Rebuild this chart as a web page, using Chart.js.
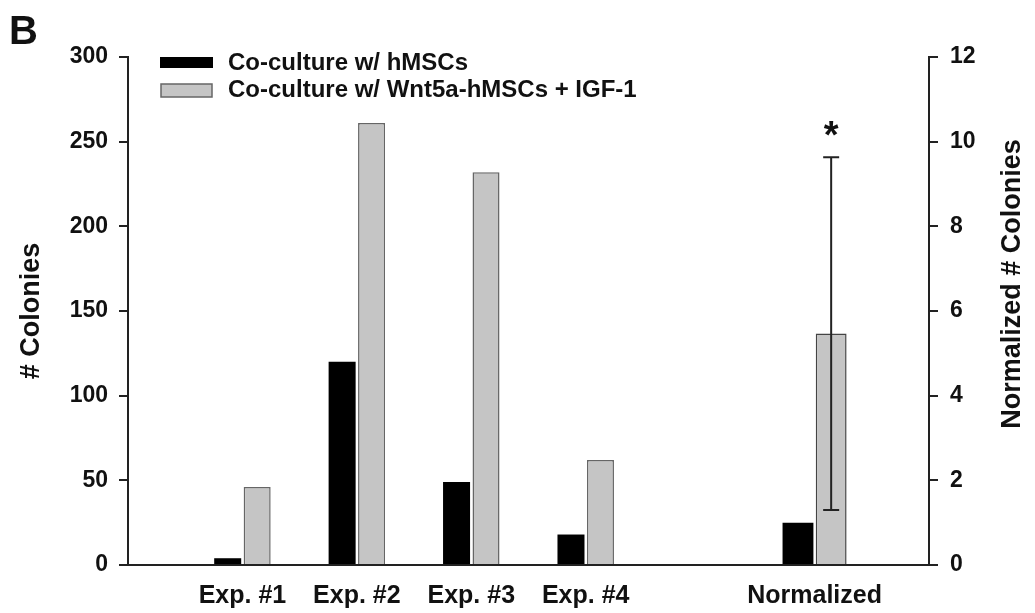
<!DOCTYPE html>
<html><head><meta charset="utf-8">
<script src="https://cdn.jsdelivr.net/npm/chart.js@4.4.1/dist/chart.umd.min.js"></script>
<style>html,body{margin:0;padding:0;background:#fff}#wrap{width:1035px;height:613px;position:relative}</style>
</head><body><div id="wrap"><canvas id="c" width="1035" height="613"></canvas></div>
<script>
// ---- data ----
const categories = ['', 'Exp. #1', 'Exp. #2', 'Exp. #3', 'Exp. #4', '', 'Normalized', ''];
const seriesNames = ['Co-culture w/ hMSCs', 'Co-culture w/ Wnt5a-hMSCs + IGF-1'];
const hmscColonies = [null, 4, 120, 49, 18, null, null, null];
const wntColonies = [null, 46, 261, 232, 62, null, null, null];
const hmscNormalized = [null, null, null, null, null, null, 1.0, null];
const wntNormalized = [null, null, null, null, null, null, 5.47, null];
const wntNormErrLow = [null, null, null, null, null, null, 1.3, null];
const wntNormErrHigh = [null, null, null, null, null, null, 9.63, null];
const significance = ['', '', '', '', '', '', '*', ''];
const leftTicks = [0, 50, 100, 150, 200, 250, 300];
const rightTicks = [0, 2, 4, 6, 8, 10, 12];
const panelLabel = 'B';
const leftTitle = '# Colonies';
const rightTitle = 'Normalized # Colonies';

const FONT = '"Liberation Sans", Arial, Helvetica, sans-serif';
const INK = '#111';
const AXIS = '#222';
const BLACK = '#000';
const GRAY = '#c5c5c5';
const GRAY_EDGE = '#666';

const overlay = {
  id: 'overlay',
  afterDatasetsDraw(chart) {
    const ctx = chart.ctx;
    const y2 = chart.scales.y2;
    const meta = chart.getDatasetMeta(3);
    ctx.save();
    ctx.strokeStyle = '#222';
    ctx.lineWidth = 2;
    wntNormalized.forEach((v, i) => {
      if (wntNormErrHigh[i] == null) return;
      const x = meta.data[i].x;
      const yLo = y2.getPixelForValue(wntNormErrLow[i]);
      const yHi = y2.getPixelForValue(wntNormErrHigh[i]);
      ctx.beginPath();
      ctx.moveTo(x, yLo); ctx.lineTo(x, yHi);
      ctx.moveTo(x - 8, yLo); ctx.lineTo(x + 8, yLo);
      ctx.moveTo(x - 8, yHi); ctx.lineTo(x + 8, yHi);
      ctx.stroke();
      if (significance[i]) {
        ctx.fillStyle = INK;
        ctx.font = 'bold 38px ' + FONT;
        ctx.textAlign = 'center';
        ctx.textBaseline = 'alphabetic';
        const m = ctx.measureText(significance[i]);
        const cy = yHi - 29;
        const base = cy + (m.actualBoundingBoxAscent - m.actualBoundingBoxDescent) / 2;
        ctx.fillText(significance[i], x, base);
      }
    });
    ctx.restore();
  },
  afterDraw(chart) {
    const ctx = chart.ctx;
    ctx.save();
    // panel label
    ctx.fillStyle = INK;
    ctx.font = 'bold 40px ' + FONT;
    ctx.textAlign = 'left';
    ctx.textBaseline = 'alphabetic';
    ctx.fillText(panelLabel, 9, 44);
    // legend
    ctx.fillStyle = BLACK;
    ctx.fillRect(160, 57, 53, 11);
    ctx.fillStyle = GRAY;
    ctx.fillRect(161, 84, 51, 13);
    ctx.strokeStyle = GRAY_EDGE;
    ctx.lineWidth = 1.5;
    ctx.strokeRect(161, 84, 51, 13);
    ctx.fillStyle = INK;
    ctx.font = 'bold 24px ' + FONT;
    ctx.fillText(seriesNames[0], 228, 70);
    ctx.fillText(seriesNames[1], 228, 97);
    // right axis title (reads bottom to top)
    ctx.translate(1013, 284);
    ctx.rotate(-Math.PI / 2);
    ctx.textAlign = 'center';
    ctx.textBaseline = 'middle';
    ctx.font = 'bold 27px ' + FONT;
    ctx.fillText(rightTitle, 0, 0);
    ctx.restore();
  }
};

const yAxisCommon = {
  beginAtZero: true,
  grid: { drawOnChartArea: false, drawTicks: true, tickLength: 9, color: AXIS, lineWidth: 2 },
  border: { display: true, color: AXIS, width: 2 },
};

new Chart(document.getElementById('c'), {
  type: 'bar',
  data: {
    labels: categories,
    datasets: [
      { label: seriesNames[0], data: hmscColonies, yAxisID: 'y', backgroundColor: BLACK, borderWidth: 0,
        categoryPercentage: 0.515, barPercentage: 0.917 },
      { label: seriesNames[1], data: wntColonies, yAxisID: 'y', backgroundColor: GRAY, borderColor: GRAY_EDGE, borderWidth: 1.5,
        categoryPercentage: 0.515, barPercentage: 0.917 },
      { label: seriesNames[0] + ' (normalized)', data: hmscNormalized, yAxisID: 'y2', backgroundColor: BLACK, borderWidth: 0,
        categoryPercentage: 0.58, barPercentage: 0.93 },
      { label: seriesNames[1] + ' (normalized)', data: wntNormalized, yAxisID: 'y2', backgroundColor: GRAY, borderColor: '#444', borderWidth: 1.5,
        categoryPercentage: 0.58, barPercentage: 0.93 }
    ]
  },
  options: {
    responsive: false,
    devicePixelRatio: 1,
    animation: false,
    skipNull: true,
    layout: { padding: { top: 57, right: 0, bottom: 0, left: 0 } },
    plugins: { legend: { display: false }, tooltip: { enabled: false } },
    scales: {
      x: {
        type: 'category',
        offset: false,
        grid: { display: false },
        border: { display: true, color: AXIS, width: 2 },
        ticks: { autoSkip: false, maxRotation: 0, minRotation: 0, padding: 8,
                 color: INK, font: { family: FONT, size: 25, weight: 'bold' } },
        afterFit: s => { s.height = 48; }
      },
      y: Object.assign({}, yAxisCommon, {
        position: 'left',
        min: 0, max: 300,
        afterBuildTicks: s => { s.ticks = leftTicks.map(v => ({ value: v })); },
        ticks: { padding: 11, color: INK, font: { family: FONT, size: 23, weight: 'bold' } },
        title: { display: true, text: leftTitle, color: INK, padding: { top: 15, bottom: 0 },
                 font: { family: FONT, size: 27, weight: 'bold' } },
        afterFit: s => { s.width = 128; }
      }),
      y2: Object.assign({}, yAxisCommon, {
        position: 'right',
        min: 0, max: 12,
        afterBuildTicks: s => { s.ticks = rightTicks.map(v => ({ value: v })); },
        ticks: { padding: 12, color: INK, font: { family: FONT, size: 23, weight: 'bold' } },
        afterFit: s => { s.width = 106; }
      })
    }
  },
  plugins: [overlay]
});
</script>
</body></html>
